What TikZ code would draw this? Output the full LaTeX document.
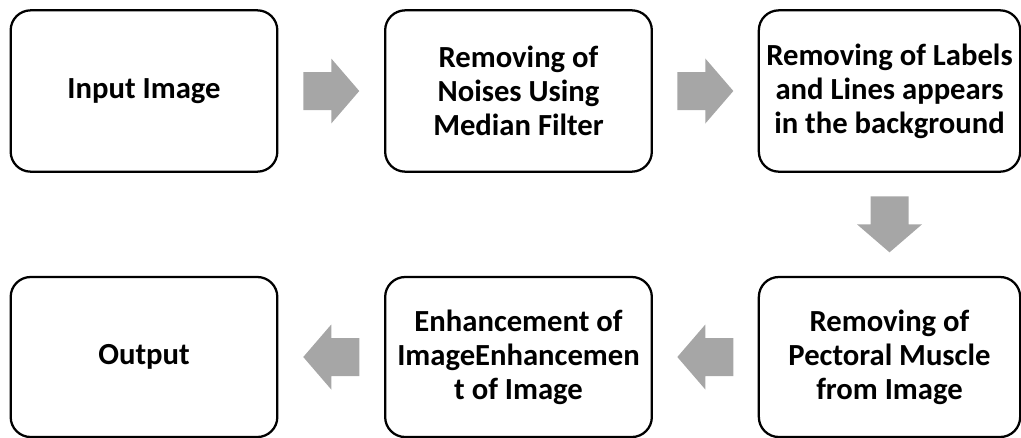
\documentclass[tikz,border=0pt]{standalone}
\usepackage{fontspec}
\setmainfont{Carlito}
\usetikzlibrary{calc}
\definecolor{arrowgray}{RGB}{166,166,166}

\tikzset{
  stagebox/.style={draw, line width=1.7pt, rounded corners=15pt,
    minimum width=200pt, minimum height=121pt, inner sep=0pt,
    align=center, font=\fontsize{23}{25.5}\selectfont\bfseries},
  blockarr/.pic={
    \fill[arrowgray] (-28,-19) -- (0,-19) -- (0,-32.5) -- (28,0)
      -- (0,32.5) -- (0,19) -- (-28,19) -- cycle;
  },
}

\begin{document}
\begin{tikzpicture}[x=0.75pt,y=-0.75pt]
\useasboundingbox (0,0) rectangle (1021,437);

% top row
\node[stagebox] (in) at (144,91) {Input Image};
\node[stagebox] (noise) at (518.5,91) {Removing of\\Noises Using\\Median Filter};
\node[stagebox, minimum width=196pt] (labels) at (889.5,91)
  {Removing of Labels\\and Lines appears\\in the background};

% bottom row
\node[stagebox, minimum height=120pt] (out) at (144,357) {Output};
\node[stagebox, minimum height=120pt] (enhance) at (518.5,357)
  {Enhancement of\\ImageEnhancemen\\t of Image};
\node[stagebox, minimum width=196pt, minimum height=120pt] (pectoral) at (889.5,357)
  {Removing of\\Pectoral Muscle\\from Image};

% block arrows
\pic at ($(in.east)!0.5!(noise.west)$) {blockarr};
\pic at ($(noise.east)!0.5!(labels.west)$) {blockarr};
\pic[rotate=-90] at ($(labels.south)!0.5!(pectoral.north)$) {blockarr};
\pic[rotate=180] at ($(pectoral.west)!0.5!(enhance.east)$) {blockarr};
\pic[rotate=180] at ($(enhance.west)!0.5!(out.east)$) {blockarr};
\end{tikzpicture}
\end{document}
